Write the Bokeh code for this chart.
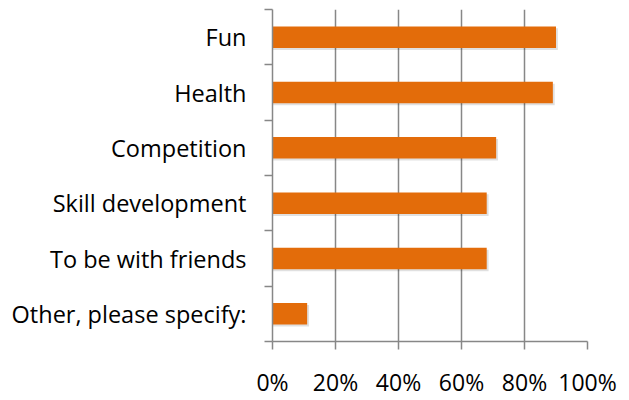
from bokeh.plotting import figure
from bokeh.models import Range1d, FixedTicker, NumeralTickFormatter
from bokeh.embed import file_html
from bokeh.resources import INLINE

categories = ["Fun", "Health", "Competition", "Skill development",
              "To be with friends", "Other, please specify:"]
values = [0.90, 0.89, 0.71, 0.68, 0.68, 0.11]
x_ticks = [0, 0.2, 0.4, 0.6, 0.8, 1.0]

n = len(categories)
# top category first
ypos = [n - i - 0.5 for i in range(n)]

p = figure(width=620, height=400, output_backend="svg", toolbar_location=None,
           x_range=Range1d(0, 1), y_range=Range1d(0, n),
           min_border_left=272, min_border_right=33, min_border_top=9, min_border_bottom=56)
p.outline_line_color = None
p.background_fill_color = "white"

FONT = "Open Sans"
GRAY = "#878787"

# subtle shadow
p.hbar(y=[y - 0.035 for y in ypos], left=0, right=[v + 0.006 for v in values], height=0.39,
       fill_color="#000000", fill_alpha=0.12, line_color=None)
p.hbar(y=ypos, left=0, right=values, height=0.39, fill_color="#E36C0A", line_color=None)

# x axis
p.xaxis.ticker = FixedTicker(ticks=x_ticks)
p.xaxis.formatter = NumeralTickFormatter(format="0%")
p.xaxis.axis_line_color = GRAY
p.xaxis.axis_line_width = 1.5
p.xaxis.major_tick_line_color = GRAY
p.xaxis.major_tick_line_width = 1.5
p.xaxis.major_tick_out = 8
p.xaxis.major_tick_in = 0
p.xaxis.minor_tick_line_color = None
p.xaxis.major_label_text_font = FONT
p.xaxis.major_label_text_font_size = "23px"
p.xaxis.major_label_text_color = "#000000"
p.xaxis.major_label_standoff = 16

# y axis: labels at centers, ticks at boundaries (minor)
p.yaxis.ticker = FixedTicker(ticks=ypos, minor_ticks=list(range(n + 1)))
p.yaxis.major_label_overrides = {y: c for y, c in zip(ypos, categories)}
p.yaxis.axis_line_color = GRAY
p.yaxis.axis_line_width = 1.5
p.yaxis.major_tick_line_color = None
p.yaxis.major_tick_out = 0
p.yaxis.major_tick_in = 0
p.yaxis.minor_tick_line_color = GRAY
p.yaxis.minor_tick_line_width = 1.5
p.yaxis.minor_tick_out = 8
p.yaxis.minor_tick_in = 0
p.yaxis.major_label_text_font = FONT
p.yaxis.major_label_text_font_size = "23.5px"
p.yaxis.major_label_text_color = "#000000"
p.yaxis.major_label_standoff = 18

p.xgrid.ticker = FixedTicker(ticks=x_ticks[1:])
p.xgrid.grid_line_color = GRAY
p.xgrid.grid_line_width = 1.5
p.ygrid.grid_line_color = None

open("out.html", "w").write(file_html(p, INLINE))
